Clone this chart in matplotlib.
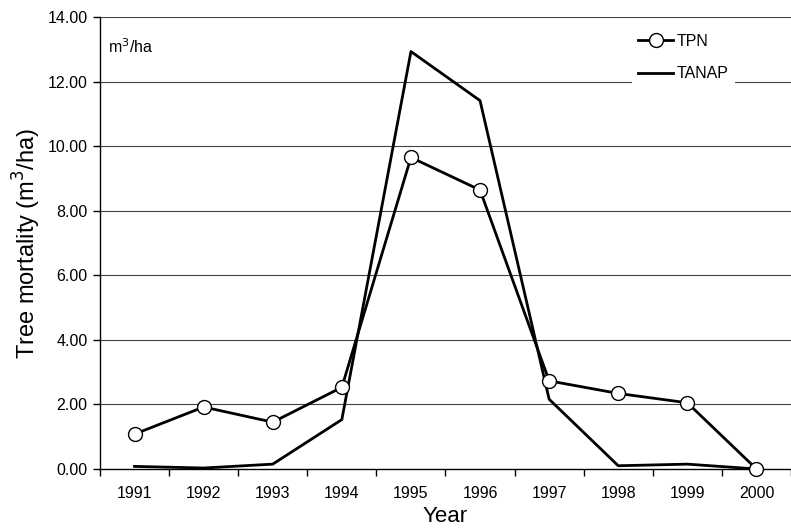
import matplotlib.pyplot as plt
import numpy as np

plt.rcParams['font.family'] = ['Liberation Sans', 'DejaVu Sans']

years = ["1991", "1992", "1993", "1994", "1995", "1996", "1997", "1998", "1999", "2000"]
tpn = [1.08, 1.92, 1.45, 2.53, 9.65, 8.64, 2.73, 2.34, 2.05, 0.0]
tanap = [0.08, 0.03, 0.15, 1.53, 12.93, 11.41, 2.16, 0.10, 0.15, 0.0]
yticks = np.arange(0, 14.01, 2)

fig = plt.figure(figsize=(7.91, 5.31), dpi=100)
ax = fig.add_axes([0.1264, 0.1168, 0.8736, 0.8512])

x = np.arange(len(years))
ax.plot(x, tanap, color="black", lw=2, label="TANAP", zorder=3)
ax.plot(x, tpn, color="black", lw=2, marker="o", markersize=10,
        markerfacecolor="white", markeredgecolor="black", markeredgewidth=1,
        label="TPN", zorder=4, clip_on=False)

ax.set_xlim(-0.5, 9.43)
ax.set_ylim(0, 14)
ax.set_yticks(yticks)
ax.set_yticklabels([f"{v:.2f}" for v in yticks], fontsize=11.5)
for v in yticks[1:]:
    ax.axhline(v, color="#444444", lw=0.8, zorder=1)

# ticks sit between the years, labels in the middle
ax.set_xticks(np.arange(-0.5, 10, 1))
ax.set_xticklabels([])
ax.set_xticks(x, minor=True)
ax.set_xticklabels(years, minor=True, fontsize=11.5)
ax.tick_params(axis="x", which="minor", length=0, pad=12)
ax.tick_params(axis="x", which="major", length=5, direction="out", width=1)
ax.tick_params(axis="y", length=5, direction="out", width=1, pad=4)

for s in ["top", "right"]:
    ax.spines[s].set_visible(False)
ax.spines["left"].set_linewidth(1)
ax.spines["bottom"].set_linewidth(1)

ax.set_ylabel("Tree mortality (m$^3$/ha)", fontsize=17, labelpad=3)
ax.set_xlabel("Year", fontsize=16, labelpad=4)

ax.text(0.012, 0.955, "m$^3$/ha", transform=ax.transAxes, fontsize=11.5,
        va="top", ha="left")

h, l = ax.get_legend_handles_labels()
leg = ax.legend(h[::-1], l[::-1], loc="upper right", bbox_to_anchor=(0.93, 0.995),
                fontsize=11.5, frameon=True, fancybox=False, edgecolor="none",
                facecolor="white", framealpha=1, handlelength=2.2,
                labelspacing=1.1, handletextpad=0.2, borderpad=0.4)

fig.savefig("out.png", dpi=100)
